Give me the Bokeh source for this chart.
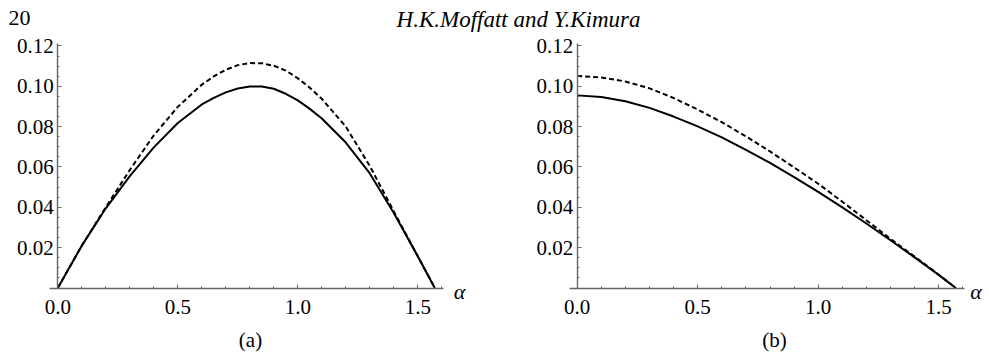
from bokeh.plotting import figure
from bokeh.models import FixedTicker, PrintfTickFormatter, Label, Range1d
from bokeh.layouts import column, row
from bokeh.embed import file_html
from bokeh.resources import INLINE

# ---------------- data ----------------
alpha_a = [0.0, 0.1, 0.2, 0.3, 0.4, 0.5, 0.6, 0.65, 0.7, 0.75, 0.8, 0.85, 0.9,
           0.95, 1.0, 1.05, 1.1, 1.2, 1.3, 1.4, 1.5, 1.5708]
a_solid = [0.0, 0.0210, 0.0395, 0.0555, 0.0697, 0.0818, 0.0910, 0.0943, 0.0970,
           0.0989, 0.0999, 0.0999, 0.0988, 0.0963, 0.0930, 0.0888, 0.0840, 0.0721,
           0.0568, 0.0372, 0.0157, 0.0]
a_dashed = [0.0, 0.0210, 0.0400, 0.0585, 0.0757, 0.0898, 0.1008, 0.1049, 0.1082,
            0.1105, 0.1115, 0.1114, 0.1102, 0.1078, 0.1040, 0.0993, 0.0938, 0.0800,
            0.0605, 0.0380, 0.0157, 0.0]

alpha_b = [0.0, 0.1, 0.2, 0.3, 0.4, 0.5, 0.6, 0.7, 0.8, 0.9,
           1.0, 1.1, 1.2, 1.3, 1.4, 1.5, 1.5708]
b_solid = [0.0955, 0.0947, 0.0926, 0.0893, 0.0850, 0.0801, 0.0747, 0.0685, 0.0620,
           0.0550, 0.0477, 0.0400, 0.0320, 0.0237, 0.0152, 0.0065, 0.0]
b_dashed = [0.1051, 0.1044, 0.1024, 0.0990, 0.0942, 0.0885, 0.0822, 0.0752, 0.0677,
            0.0598, 0.0517, 0.0428, 0.0336, 0.0244, 0.0156, 0.0066, 0.0]

x_major = [0.0, 0.5, 1.0, 1.5]
x_minor = [0.1, 0.2, 0.3, 0.4, 0.6, 0.7, 0.8, 0.9, 1.1, 1.2, 1.3, 1.4, 1.6]
y_major = [0.02, 0.04, 0.06, 0.08, 0.10, 0.12]
y_minor = [round(0.005 * i, 3) for i in range(1, 25)]

page_number = "20"
header_title = "H.K.Moffatt and Y.Kimura"
panel_tags = ["(a)", "(b)"]
x_symbol = "\u03b1"

SERIF = "Liberation Serif"
AX_COLOR = "#666666"

HEADER_H = 34
FIG_H = 324
PX_PER_Y = 2017.0      # pixels per unit of the vertical axis
ZERO_FROM_TOP = 253.5  # y = 0 position inside a panel figure


def make_panel(xs, y_solid, y_dashed, tag, width, zero_left, px_per_x, tag_x, sym_x):
    x0 = -zero_left / px_per_x
    x1 = x0 + width / px_per_x
    y1 = ZERO_FROM_TOP / PX_PER_Y
    y0 = y1 - FIG_H / PX_PER_Y
    p = figure(width=width, height=FIG_H,
               x_range=Range1d(x0, x1), y_range=Range1d(y0, y1),
               output_backend="svg", toolbar_location=None,
               min_border=0, min_border_left=0, min_border_right=0,
               min_border_top=0, min_border_bottom=0)
    p.grid.visible = False
    p.outline_line_color = None
    p.background_fill_color = "white"
    p.border_fill_color = "white"

    p.line(xs, y_solid, line_color="black", line_width=2)
    p.line(xs, y_dashed, line_color="black", line_width=2, line_dash="5 3")

    xa = p.xaxis[0]
    xa.ticker = FixedTicker(ticks=x_major, minor_ticks=x_minor)
    xa.formatter = PrintfTickFormatter(format="%.1f")
    xa.fixed_location = 0.0
    xa.bounds = (-0.034, 1.605)
    ya = p.yaxis[0]
    ya.ticker = FixedTicker(ticks=y_major, minor_ticks=y_minor)
    ya.formatter = PrintfTickFormatter(format="%.2f")
    ya.fixed_location = 0.0
    ya.bounds = (0.0, 0.1213)

    for ax, std in ((xa, 12), (ya, 4)):
        ax.axis_line_color = AX_COLOR
        ax.axis_line_width = 1.4
        ax.major_tick_line_color = AX_COLOR
        ax.minor_tick_line_color = AX_COLOR
        ax.major_tick_in = 4
        ax.major_tick_out = 0
        ax.minor_tick_in = 2
        ax.minor_tick_out = 0
        ax.major_label_text_font = SERIF
        ax.major_label_text_font_size = "21px"
        ax.major_label_text_color = "black"
        ax.major_label_standoff = std

    p.add_layout(Label(x=sym_x, y=0.0, y_offset=-3, text=x_symbol,
                       text_font=SERIF, text_font_style="italic",
                       text_font_size="22px", text_align="center",
                       text_baseline="middle", text_color="black"))
    p.add_layout(Label(x=tag_x, y=-0.026, text=tag,
                       text_font=SERIF, text_font_size="21px",
                       text_align="center", text_baseline="middle",
                       text_color="black"))
    return p


fig_a = make_panel(alpha_a, a_solid, a_dashed, panel_tags[0], 528, 57.3, 240.0, 0.803, 1.674)
fig_b = make_panel(alpha_b, b_solid, b_dashed, panel_tags[1], 460, 48.7, 241.0, 0.819, 1.655)

header = figure(width=988, height=HEADER_H, x_range=Range1d(0, 988),
                y_range=Range1d(0, HEADER_H),
                output_backend="svg", toolbar_location=None,
                min_border=0, min_border_left=0, min_border_right=0,
                min_border_top=0, min_border_bottom=0)
header.axis.visible = False
header.grid.visible = False
header.outline_line_color = None
header.add_layout(Label(x=8, y=16.2, text=page_number, text_font=SERIF,
                        text_font_size="22px", text_align="left",
                        text_baseline="alphabetic", text_color="black"))
header.add_layout(Label(x=518, y=14.8, text=header_title, text_font=SERIF,
                        text_font_style="italic", text_font_size="23px",
                        text_align="center", text_baseline="alphabetic",
                        text_color="black"))

layout = column(header, row(fig_a, fig_b, spacing=0), spacing=0)

open("out.html", "w").write(file_html(layout, INLINE))
